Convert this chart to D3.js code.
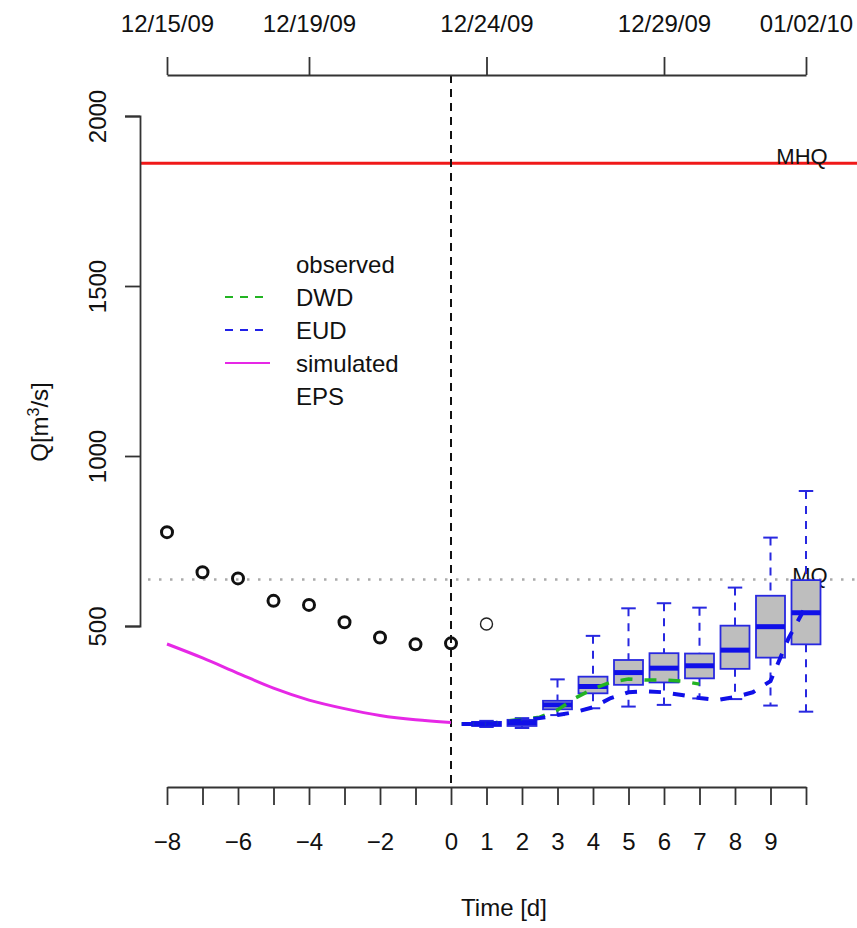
<!DOCTYPE html>
<html>
<head>
<meta charset="utf-8">
<script src="https://cdn.jsdelivr.net/npm/d3@7"></script>
<style>
body { margin: 0; background: #fff; }
text { font-family: "Liberation Sans", Arial, Helvetica, sans-serif; fill: #111; }
</style>
</head>
<body>
<div id="chart"></div>
<script>
// observed discharge (m3/s), days before forecast start
var obsDays = [-8, -7, -6, -5, -4, -3, -2, -1, 0];
var obsValues = [776, 658, 640, 574, 562, 511, 466, 446, 449];
// observed after forecast start (thin circle)
var obsLateDays = [1];
var obsLateValues = [506];

// simulated (magenta)
var simDays = [-8, -7, -6, -5, -4, -3, -2, -1, 0];
var simValues = [447, 406, 361, 317, 282, 257, 237, 224, 216];

// deterministic forecasts
var dwdDays = [0.3, 1, 2, 2.5, 3, 3.5, 4, 4.5, 5, 5.5, 6, 6.5, 7];
var dwdValues = [212, 212, 226, 232, 253, 288, 315, 335, 344, 341, 341, 338, 329];
var eudDays = [0.3, 1, 1.5, 2, 2.5, 3, 3.5, 4, 4.5, 5, 5.5, 6, 6.5, 7, 7.5, 8, 8.5, 9, 9.5, 10];
var eudValues = [212, 212, 218, 223, 229, 238, 247, 261, 288, 305, 308, 305, 297, 288, 282, 291, 305, 338, 462, 559];

// EPS boxplots
var boxDays = [1, 2, 3, 4, 5, 6, 7, 8, 9, 10];
var boxLow  = [203, 200, 238, 258, 263, 268, 287, 285, 266, 248];
var boxQ1   = [206, 206, 255, 302, 327, 334, 346, 374, 407, 446];
var boxMed  = [212, 216, 268, 322, 363, 376, 383, 429, 498, 539];
var boxQ3   = [218, 224, 280, 351, 400, 420, 419, 501, 589, 635];
var boxHigh = [221, 229, 343, 471, 552, 567, 554, 613, 760, 897];

var mhq = 1861, mq = 637;

var yTicks = [500, 1000, 1500, 2000];
var dayTicks = [-8, -7, -6, -5, -4, -3, -2, -1, 0, 1, 2, 3, 4, 5, 6, 7, 8, 9, 10];
var dayLabels = [-8, -6, -4, -2, 0, 1, 2, 3, 4, 5, 6, 7, 8, 9];
var dateTicks = ["2009-12-15", "2009-12-19", "2009-12-24", "2009-12-29", "2010-01-02"];
var dateRange = ["2009-12-15", "2010-01-02"];

var legendNames = ["observed", "DWD", "EUD", "simulated", "EPS"];
var legendColors = [null, "#22b422", "#2020e8", "#e628e6", null];
var legendDash = [null, "8,7", "8,7", null, null];

var width = 857, height = 928;
var plotTop = 75, plotBottom = 787, plotLeft = 140, plotRight = 857;

var svg = d3.select("#chart").append("svg")
    .attr("width", width)
    .attr("height", height);

var xScale = d3.scaleLinear().domain([-8, 10]).range([167, 806]);
var yScale = d3.scaleLinear().domain([500, 2000]).range([626, 116]);
var parseDay = d3.utcParse("%Y-%m-%d");
var tScale = d3.scaleUtc().domain(dateRange.map(parseDay)).range([167, 806]);

// reference lines
svg.append("line")
    .attr("x1", plotLeft).attr("x2", plotRight)
    .attr("y1", yScale(mhq)).attr("y2", yScale(mhq))
    .attr("stroke", "#f01818").attr("stroke-width", 3);
svg.append("line")
    .attr("x1", plotLeft + 8).attr("x2", plotRight)
    .attr("y1", yScale(mq)).attr("y2", yScale(mq))
    .attr("stroke", "#aaa").attr("stroke-width", 2.5)
    .attr("stroke-dasharray", "2.5,8.5");

svg.append("line")
    .attr("x1", xScale(0)).attr("x2", xScale(0))
    .attr("y1", plotTop).attr("y2", plotBottom)
    .attr("stroke", "#111").attr("stroke-width", 2)
    .attr("stroke-dasharray", "8,6");

svg.append("text").attr("x", 802).attr("y", yScale(mhq) + 1)
    .attr("text-anchor", "middle").attr("font-size", 22).text("MHQ");
svg.append("text").attr("x", 810).attr("y", yScale(mq) + 4)
    .attr("text-anchor", "middle").attr("font-size", 22).text("MQ");

// axes
function styleAxis(g) {
    g.attr("font-size", 24).attr("font-family", null).attr("color", "#333");
    g.selectAll("path, line").attr("stroke-width", 1.8);
    g.selectAll("text").attr("fill", "#111");
}

var yAxis = svg.append("g")
    .attr("transform", "translate(" + plotLeft + ",0)")
    .call(d3.axisLeft(yScale).tickValues(yTicks).tickFormat(d3.format("d")).tickSize(15));
styleAxis(yAxis);
yAxis.selectAll("text")
    .attr("x", null).attr("dy", null)
    .attr("text-anchor", "middle")
    .attr("transform", "translate(-34,0) rotate(-90)");

var xAxis = svg.append("g")
    .attr("transform", "translate(0," + plotBottom + ")")
    .call(d3.axisBottom(xScale).tickValues(dayTicks)
        .tickFormat(d => dayLabels.indexOf(d) >= 0 ? d3.format("d")(d) : "")
        .tickSize(18).tickSizeOuter(0).tickPadding(28));
styleAxis(xAxis);

var tAxis = svg.append("g")
    .attr("transform", "translate(0," + plotTop + ")")
    .call(d3.axisTop(tScale).tickValues(dateTicks.map(parseDay))
        .tickFormat(d3.utcFormat("%m/%d/%y"))
        .tickSize(18).tickSizeOuter(0).tickPadding(25));
styleAxis(tAxis);

svg.append("text")
    .attr("transform", "translate(48,422) rotate(-90)")
    .attr("text-anchor", "middle").attr("font-size", 24)
    .call(t => {
        t.append("tspan").text("Q[m");
        t.append("tspan").attr("dy", -9).attr("font-size", 16).text("3");
        t.append("tspan").attr("dy", 9).text("/s]");
    });

svg.append("text")
    .attr("x", 504).attr("y", 916)
    .attr("text-anchor", "middle").attr("font-size", 24)
    .text("Time [d]");

// observed
svg.selectAll(".obs")
    .data(obsDays.map((d, i) => ({day: d, value: obsValues[i]})))
    .enter().append("circle")
    .attr("class", "obs")
    .attr("cx", d => xScale(d.day))
    .attr("cy", d => yScale(d.value))
    .attr("r", 5.5)
    .attr("fill", "none").attr("stroke", "#111").attr("stroke-width", 3);

svg.selectAll(".obsLate")
    .data(obsLateDays.map((d, i) => ({day: d, value: obsLateValues[i]})))
    .enter().append("circle")
    .attr("class", "obsLate")
    .attr("cx", d => xScale(d.day))
    .attr("cy", d => yScale(d.value))
    .attr("r", 6)
    .attr("fill", "none").attr("stroke", "#222").attr("stroke-width", 1.4);

// simulated
var line = d3.line()
    .x(d => xScale(d[0]))
    .y(d => yScale(d[1]));

svg.append("path")
    .datum(simDays.map((d, i) => [d, simValues[i]]))
    .attr("d", line.curve(d3.curveMonotoneX))
    .attr("fill", "none").attr("stroke", "#e628e6").attr("stroke-width", 3);

// boxplots
var boxW = 29;
var boxes = svg.selectAll(".box")
    .data(boxDays.map((d, i) => ({
        day: d, lo: boxLow[i], q1: boxQ1[i], med: boxMed[i], q3: boxQ3[i], hi: boxHigh[i]
    })))
    .enter().append("g").attr("class", "box");

boxes.append("line")
    .attr("x1", d => xScale(d.day)).attr("x2", d => xScale(d.day))
    .attr("y1", d => yScale(d.hi)).attr("y2", d => yScale(d.q3))
    .attr("stroke", "#2828e0").attr("stroke-width", 2).attr("stroke-dasharray", "8,7");
boxes.append("line")
    .attr("x1", d => xScale(d.day)).attr("x2", d => xScale(d.day))
    .attr("y1", d => yScale(d.q1)).attr("y2", d => yScale(d.lo))
    .attr("stroke", "#2828e0").attr("stroke-width", 2).attr("stroke-dasharray", "8,7");
boxes.append("line")
    .attr("x1", d => xScale(d.day) - boxW / 4).attr("x2", d => xScale(d.day) + boxW / 4)
    .attr("y1", d => yScale(d.hi)).attr("y2", d => yScale(d.hi))
    .attr("stroke", "#2828e0").attr("stroke-width", 2);
boxes.append("line")
    .attr("x1", d => xScale(d.day) - boxW / 4).attr("x2", d => xScale(d.day) + boxW / 4)
    .attr("y1", d => yScale(d.lo)).attr("y2", d => yScale(d.lo))
    .attr("stroke", "#2828e0").attr("stroke-width", 2);
boxes.append("rect")
    .attr("x", d => xScale(d.day) - boxW / 2)
    .attr("y", d => yScale(d.q3))
    .attr("width", boxW)
    .attr("height", d => yScale(d.q1) - yScale(d.q3))
    .attr("fill", "#bebebe").attr("stroke", "#2828e0").attr("stroke-width", 1.8);
boxes.append("line")
    .attr("x1", d => xScale(d.day) - boxW / 2).attr("x2", d => xScale(d.day) + boxW / 2)
    .attr("y1", d => yScale(d.med)).attr("y2", d => yScale(d.med))
    .attr("stroke", "#1010e8").attr("stroke-width", 5);

// forecasts
svg.append("path")
    .datum(dwdDays.map((d, i) => [d, dwdValues[i]]))
    .attr("d", line.curve(d3.curveLinear))
    .attr("fill", "none").attr("stroke", "#22b422").attr("stroke-width", 3.5)
    .attr("stroke-dasharray", "12,12");
svg.append("path")
    .datum(eudDays.map((d, i) => [d, eudValues[i]]))
    .attr("d", line.curve(d3.curveLinear))
    .attr("fill", "none").attr("stroke", "#1010e8").attr("stroke-width", 4)
    .attr("stroke-dasharray", "12,12");

// legend
var legend = svg.append("g").attr("transform", "translate(0,264)");
legendNames.forEach(function(name, i) {
    var y = i * 33;
    if (legendColors[i]) {
        legend.append("line")
            .attr("x1", 225).attr("x2", 270)
            .attr("y1", y).attr("y2", y)
            .attr("stroke", legendColors[i]).attr("stroke-width", 2.2)
            .attr("stroke-dasharray", legendDash[i]);
    }
    legend.append("text")
        .attr("x", 296).attr("y", y).attr("dy", "0.36em")
        .attr("font-size", 24).text(name);
});
</script>
</body>
</html>
